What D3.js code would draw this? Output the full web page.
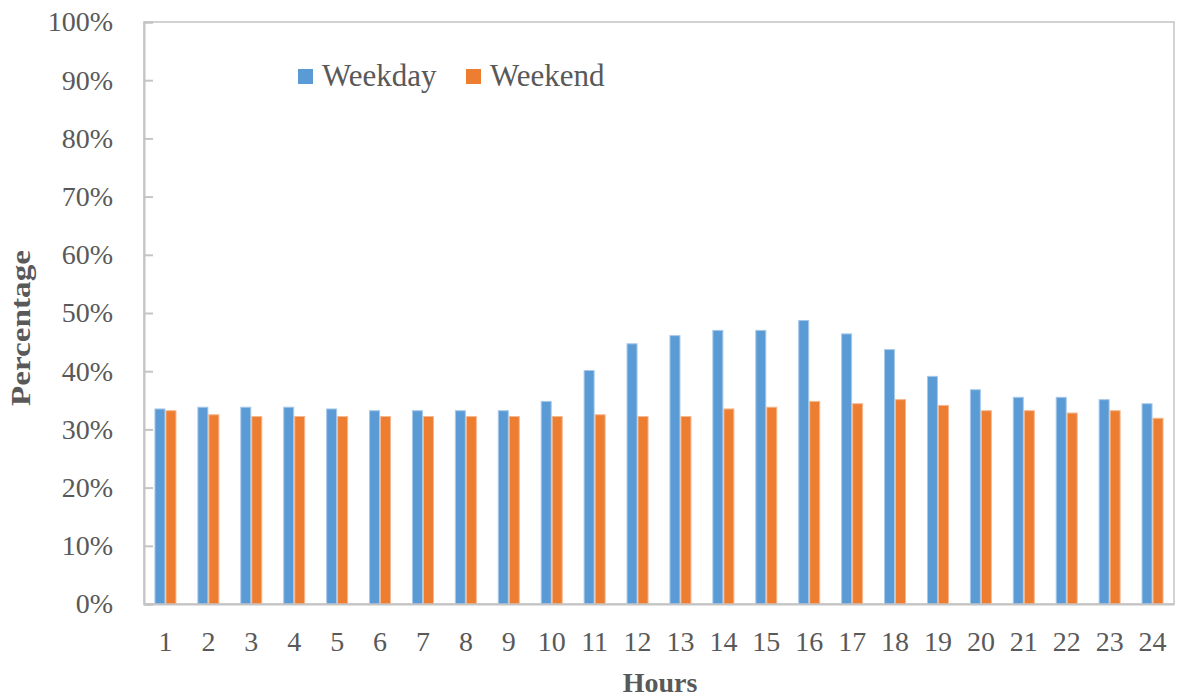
<!DOCTYPE html>
<html>
<head>
<meta charset="utf-8">
<script src="https://cdn.jsdelivr.net/npm/d3@7"></script>
<style>
  body { margin: 0; background: #fff; }
  text { font-family: "Liberation Serif", "Times New Roman", serif; fill: #595959; }
</style>
</head>
<body>
<svg id="chart" width="1178" height="698"></svg>
<script>
// hours 1..24
var hours = d3.range(1, 25).map(String);
var seriesNames = ['Weekday', 'Weekend'];
var weekday = [33.6, 33.9, 33.9, 33.9, 33.6, 33.3, 33.3, 33.3, 33.3, 34.9, 40.2, 44.8,
               46.2, 47.1, 47.1, 48.8, 46.5, 43.8, 39.2, 36.9, 35.6, 35.6, 35.2, 34.5];
var weekend = [33.3, 32.6, 32.3, 32.3, 32.3, 32.3, 32.3, 32.3, 32.3, 32.3, 32.6, 32.3,
               32.3, 33.6, 33.9, 34.9, 34.5, 35.2, 34.2, 33.3, 33.3, 32.9, 33.3, 32.0];
var yTicks = d3.range(0, 101, 10);

var colors = {Weekday: '#5b9bd5', Weekend: '#ed7d31'};
var edges = {Weekday: '#a8c9ea', Weekend: '#f5b890'};

var svg = d3.select('#chart');
var m = {left: 144, right: 1174, top: 22, bottom: 604};

var x = d3.scaleBand().domain(hours).range([m.left, m.right])
    .paddingInner(0.487).paddingOuter(0.2435);
var x1 = d3.scaleBand().domain(seriesNames).range([0, x.bandwidth()]);
var y = d3.scaleLinear().domain([0, 100]).range([m.bottom, m.top]);

var rows = hours.map(function (h, i) {
    return {hour: h, Weekday: weekday[i], Weekend: weekend[i]};
});

// plot border
svg.append('rect')
    .attr('x', m.left).attr('y', m.top)
    .attr('width', m.right - m.left).attr('height', m.bottom - m.top)
    .attr('fill', 'none').attr('stroke', '#c4c4c4').attr('stroke-width', 1.5);

// bars
var g = svg.append('g').selectAll('g').data(rows).enter().append('g')
    .attr('transform', function (d) { return 'translate(' + x(d.hour) + ',0)'; });
g.selectAll('rect').data(function (d) {
        return seriesNames.map(function (s) { return {key: s, value: d[s]}; });
    }).enter().append('rect')
    .attr('x', function (d) { return x1(d.key) + 0.5; })
    .attr('width', x1.bandwidth() - 1)
    .attr('y', function (d) { return y(d.value) + 0.5; })
    .attr('height', function (d) { return y(0) - y(d.value) - 0.5; })
    .attr('fill', function (d) { return colors[d.key]; })
    .attr('stroke', function (d) { return edges[d.key]; })
    .attr('stroke-width', 1);

// y axis
var yAxis = svg.append('g').attr('transform', 'translate(' + m.left + ',0)')
    .call(d3.axisLeft(y).tickValues(yTicks).tickSize(-9).tickPadding(31)
        .tickFormat(function (d) { return d + '%'; }));
yAxis.select('.domain').attr('stroke', '#c4c4c4').attr('stroke-width', 2);
yAxis.selectAll('.tick line').attr('stroke', '#c4c4c4').attr('stroke-width', 2);
yAxis.selectAll('.tick text').style('font-size', '28px')
    .style('font-family', '"Liberation Serif", serif').attr('fill', '#595959');

// x axis
var xAxis = svg.append('g').attr('transform', 'translate(0,' + m.bottom + ')')
    .call(d3.axisBottom(x).tickSize(0).tickPadding(28));
xAxis.select('.domain').attr('stroke', '#c4c4c4').attr('stroke-width', 2);
xAxis.selectAll('.tick text').style('font-size', '28px')
    .style('font-family', '"Liberation Serif", serif').attr('fill', '#595959')
    .attr('dy', '0.32em').attr('y', 38);

// axis titles
svg.append('text').attr('x', 660).attr('y', 692)
    .attr('text-anchor', 'middle').style('font-size', '28px').style('font-weight', 'bold')
    .text('Hours');
svg.append('text').attr('transform', 'translate(30,328) rotate(-90)')
    .attr('text-anchor', 'middle').style('font-size', '28px').style('font-weight', 'bold')
    .attr('textLength', 156).attr('lengthAdjust', 'spacingAndGlyphs')
    .text('Percentage');

// legend
var legendX = [298, 466];
var lg = svg.append('g').selectAll('g').data(seriesNames).enter().append('g')
    .attr('transform', function (d, i) { return 'translate(' + legendX[i] + ',69)'; });
lg.append('rect').attr('width', 15).attr('height', 15)
    .attr('fill', function (d) { return colors[d]; });
lg.append('text').attr('x', 24).attr('y', 17).style('font-size', '31px')
    .text(function (d) { return d; });
</script>
</body>
</html>
